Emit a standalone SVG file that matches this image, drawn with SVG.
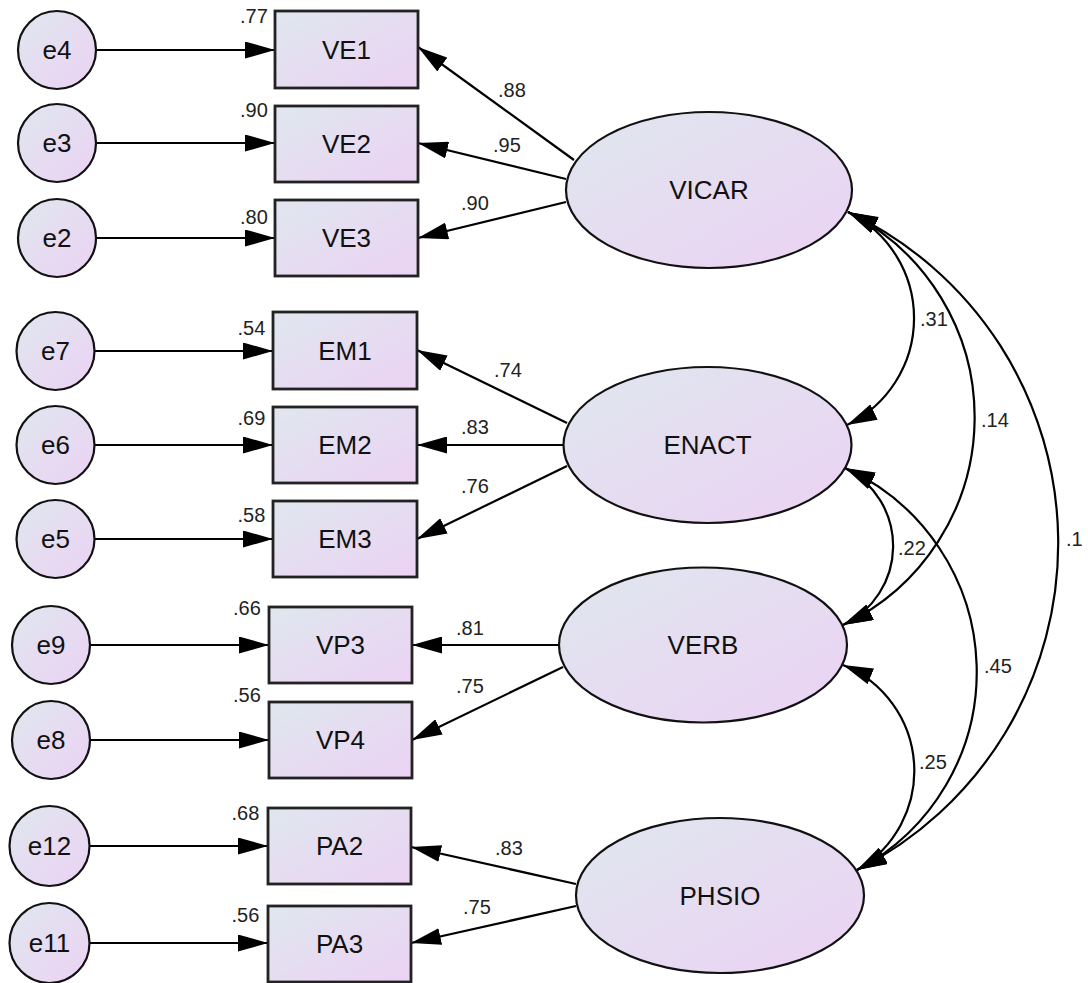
<svg xmlns="http://www.w3.org/2000/svg" width="1088" height="983" viewBox="0 0 1088 983">
<defs>
<linearGradient id="g" x1="0" y1="0" x2="1" y2="1">
<stop offset="0" stop-color="#dfe7ee"/>
<stop offset="1" stop-color="#ecd2f4"/>
</linearGradient>
<marker id="ah" markerUnits="userSpaceOnUse" viewBox="0 0 30 17" markerWidth="30" markerHeight="17" refX="30" refY="8.5" orient="auto-start-reverse">
<path d="M0,0 L30,8.5 L0,17 z" fill="#000"/>
</marker>
</defs>
<style>
.n{fill:url(#g);stroke:#111;stroke-width:2.2}
.r{fill:url(#g);stroke:#222;stroke-width:2.8}
.t{font-family:"Liberation Sans",Arial,sans-serif;font-size:26px;fill:#111;text-anchor:middle}
.s{font-family:"Liberation Sans",Arial,sans-serif;font-size:20px;fill:#222}
.c{fill:none;stroke:#000;stroke-width:2.2}
.a{marker-end:url(#ah)}
.b{marker-start:url(#ah);marker-end:url(#ah)}
</style>
<rect width="1088" height="983" fill="#fff"/>

<g id="connectors">
<!-- error to indicator -->
<path class="c a" d="M96,50 H275"/>
<path class="c a" d="M96,143 H275"/>
<path class="c a" d="M96,238 H275"/>
<path class="c a" d="M95,351 H273"/>
<path class="c a" d="M95,445 H273"/>
<path class="c a" d="M95,539 H273"/>
<path class="c a" d="M90,645 H269"/>
<path class="c a" d="M90,740 H269"/>
<path class="c a" d="M89,846 H268"/>
<path class="c a" d="M89,943 H268"/>
<!-- loadings -->
<path class="c a" d="M574,160 L418,47"/>
<path class="c a" d="M566,179 L418,143"/>
<path class="c a" d="M566,202 L418,238"/>
<path class="c a" d="M567,423 L417,350"/>
<path class="c a" d="M563,445 L417,445"/>
<path class="c a" d="M567,466 L417,539"/>
<path class="c a" d="M559,645 L412,645"/>
<path class="c a" d="M563,667 L412,740"/>
<path class="c a" d="M576,884 L411,847"/>
<path class="c a" d="M576,906 L411,943"/>
<!-- covariances -->
<path class="c b" d="M848,212 A118.5,118.5 0 0 1 847,425"/>
<path class="c b" d="M848,212 A229.7,229.7 0 0 1 843,625"/>
<path class="c b" d="M848,212 A366,366 0 0 1 857,870"/>
<path class="c b" d="M845,468 A87.3,87.3 0 0 1 843,625"/>
<path class="c b" d="M845,468 A223.7,223.7 0 0 1 857,870"/>
<path class="c b" d="M843,665 A114.3,114.3 0 0 1 857,870"/>
<!-- labels -->
<text class="s" x="498" y="97">.88</text>
<text class="s" x="493" y="152">.95</text>
<text class="s" x="461" y="210">.90</text>
<text class="s" x="494" y="377">.74</text>
<text class="s" x="461" y="434">.83</text>
<text class="s" x="461" y="493">.76</text>
<text class="s" x="456" y="635">.81</text>
<text class="s" x="456" y="693">.75</text>
<text class="s" x="495" y="855">.83</text>
<text class="s" x="463" y="914">.75</text>
<text class="s" x="920" y="326">.31</text>
<text class="s" x="981" y="427">.14</text>
<text class="s" x="1066" y="546">.1</text>
<text class="s" x="898" y="555">.22</text>
<text class="s" x="984" y="673">.45</text>
<text class="s" x="919" y="769">.25</text>
</g>

<g id="e4"><circle class="n" cx="57" cy="50" r="39"/><text class="t" x="57" y="59">e4</text></g>
<g id="e3"><circle class="n" cx="57" cy="143" r="39"/><text class="t" x="57" y="152">e3</text></g>
<g id="e2"><circle class="n" cx="57" cy="238" r="39"/><text class="t" x="57" y="247">e2</text></g>
<g id="e7"><circle class="n" cx="55.5" cy="351" r="39"/><text class="t" x="55.5" y="360">e7</text></g>
<g id="e6"><circle class="n" cx="55.5" cy="445" r="39"/><text class="t" x="55.5" y="454">e6</text></g>
<g id="e5"><circle class="n" cx="55.5" cy="539" r="39"/><text class="t" x="55.5" y="548">e5</text></g>
<g id="e9"><circle class="n" cx="51" cy="645" r="39"/><text class="t" x="51" y="654">e9</text></g>
<g id="e8"><circle class="n" cx="51" cy="740" r="39"/><text class="t" x="51" y="749">e8</text></g>
<g id="e12"><circle class="n" cx="49.5" cy="846" r="40"/><text class="t" x="49.5" y="855">e12</text></g>
<g id="e11"><circle class="n" cx="49.5" cy="943" r="40"/><text class="t" x="49.5" y="952">e11</text></g>

<g id="VE1"><rect class="r" x="275" y="11" width="143" height="77"/><text class="t" x="346.5" y="58.5">VE1</text><text class="s" x="240" y="23">.77</text></g>
<g id="VE2"><rect class="r" x="275" y="106" width="143" height="76"/><text class="t" x="346.5" y="153">VE2</text><text class="s" x="240" y="117">.90</text></g>
<g id="VE3"><rect class="r" x="275" y="200" width="143" height="76"/><text class="t" x="346.5" y="247">VE3</text><text class="s" x="240" y="224">.80</text></g>
<g id="EM1"><rect class="r" x="273" y="312" width="144" height="77"/><text class="t" x="345" y="360">EM1</text><text class="s" x="237.5" y="335">.54</text></g>
<g id="EM2"><rect class="r" x="273" y="407" width="144" height="76"/><text class="t" x="345" y="454">EM2</text><text class="s" x="237.5" y="425">.69</text></g>
<g id="EM3"><rect class="r" x="273" y="501" width="144" height="76"/><text class="t" x="345" y="548">EM3</text><text class="s" x="237.5" y="522">.58</text></g>
<g id="VP3"><rect class="r" x="269" y="607" width="143" height="76"/><text class="t" x="340.5" y="654">VP3</text><text class="s" x="233" y="615">.66</text></g>
<g id="VP4"><rect class="r" x="269" y="702" width="143" height="76"/><text class="t" x="340.5" y="749">VP4</text><text class="s" x="233" y="702">.56</text></g>
<g id="PA2"><rect class="r" x="268" y="808" width="143" height="76"/><text class="t" x="339.5" y="855">PA2</text><text class="s" x="231.5" y="820">.68</text></g>
<g id="PA3"><rect class="r" x="268" y="906" width="143" height="76"/><text class="t" x="339.5" y="953">PA3</text><text class="s" x="231.5" y="922">.56</text></g>

<g id="VICAR"><ellipse class="n" cx="709" cy="190" rx="143" ry="78"/><text class="t" x="709" y="199">VICAR</text></g>
<g id="ENACT"><ellipse class="n" cx="707.5" cy="445" rx="144" ry="78"/><text class="t" x="707.5" y="454">ENACT</text></g>
<g id="VERB"><ellipse class="n" cx="703" cy="645" rx="144" ry="77.5"/><text class="t" x="703" y="654">VERB</text></g>
<g id="PHSIO"><ellipse class="n" cx="720" cy="895.5" rx="144" ry="77.5"/><text class="t" x="720" y="904.5">PHSIO</text></g>
</svg>
